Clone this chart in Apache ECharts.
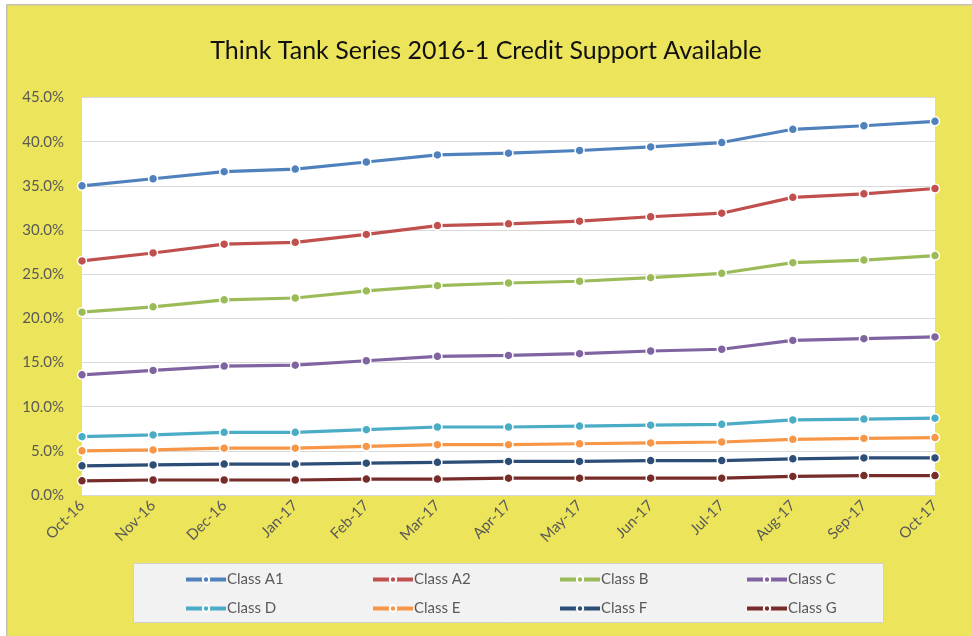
<!DOCTYPE html>
<html>
<head>
<meta charset="utf-8">
<script src="https://cdn.jsdelivr.net/npm/echarts@6/dist/echarts.min.js"></script>
<style>
html,body{margin:0;padding:0;background:#ffffff;}
#chart{width:972px;height:636px;}
</style>
</head>
<body>
<div id="chart"></div>
<script>
var categories = ['Oct-16','Nov-16','Dec-16','Jan-17','Feb-17','Mar-17','Apr-17','May-17','Jun-17','Jul-17','Aug-17','Sep-17','Oct-17'];
var yTicks = [0, 45, 5];
var classA1 = [35.0, 35.8, 36.6, 36.9, 37.7, 38.5, 38.7, 39.0, 39.4, 39.9, 41.4, 41.8, 42.3];
var classA2 = [26.5, 27.4, 28.4, 28.6, 29.5, 30.5, 30.7, 31.0, 31.5, 31.9, 33.7, 34.1, 34.7];
var classB  = [20.7, 21.3, 22.1, 22.3, 23.1, 23.7, 24.0, 24.2, 24.6, 25.1, 26.3, 26.6, 27.1];
var classC  = [13.6, 14.1, 14.6, 14.7, 15.2, 15.7, 15.8, 16.0, 16.3, 16.5, 17.5, 17.7, 17.9];
var classD  = [6.6, 6.8, 7.1, 7.1, 7.4, 7.7, 7.7, 7.8, 7.9, 8.0, 8.5, 8.6, 8.7];
var classE  = [5.0, 5.1, 5.3, 5.3, 5.5, 5.7, 5.7, 5.8, 5.9, 6.0, 6.3, 6.4, 6.5];
var classF  = [3.3, 3.4, 3.5, 3.5, 3.6, 3.7, 3.8, 3.8, 3.9, 3.9, 4.1, 4.2, 4.2];
var classG  = [1.6, 1.7, 1.7, 1.7, 1.8, 1.8, 1.9, 1.9, 1.9, 1.9, 2.1, 2.2, 2.2];
var seriesNames = ['Class A1','Class A2','Class B','Class C','Class D','Class E','Class F','Class G'];
var seriesData = [classA1, classA2, classB, classC, classD, classE, classF, classG];
var colors = ['#4F81BD','#C0504D','#9BBB59','#8064A2','#4BACC6','#F79646','#2C4D75','#772C2A'];

var FONT = 'Lato, "Open Sans", sans-serif';
var chart = echarts.init(document.getElementById('chart'), null, {renderer:'canvas'});

var legendCols = [179, 366, 553, 740];
var legendRows = [567, 596];
var legends = seriesNames.map(function(n, i){
  return {
    data: [n],
    left: legendCols[i % 4],
    top: legendRows[Math.floor(i / 4)],
    itemWidth: 40,
    itemHeight: 8,
    itemGap: 0,
    lineStyle: {width: 4},
    textStyle: {color:'#595959', fontSize:15, fontFamily:FONT, padding:[0,0,0,-4]}
  };
});

var series = seriesNames.map(function(n, i){
  return {
    name: n,
    type: 'line',
    data: seriesData[i],
    symbol: 'circle',
    symbolSize: 9,
    lineStyle: {width: 3.2, color: colors[i]},
    itemStyle: {color: colors[i], borderColor:'#ffffff', borderWidth:1.5},
    emphasis: {disabled:true},
    z: 10 - i
  };
});

chart.setOption({
  animation: false,
  backgroundColor: '#ffffff',
  color: colors,
  graphic: [
    {type:'rect', left:6, top:4, shape:{width:980, height:640}, style:{fill:'#ECE45A', stroke:'#C8BFB4', lineWidth:1.5}, z:-10},
    {type:'rect', left:133, top:563, shape:{width:750, height:59}, style:{fill:'#F2F2F2', stroke:'#D0D0D0', lineWidth:1}, z:-5}
  ],
  title: {
    text: 'Think Tank Series 2016-1 Credit Support Available',
    left: 'center',
    top: 33,
    textStyle: {color:'#111111', fontSize:25, fontWeight:'normal', fontFamily:FONT}
  },
  legend: legends,
  grid: {
    left: 82, right: 37, top: 97.5, bottom: 141,
    show: true, backgroundColor:'#ffffff', borderWidth:0
  },
  xAxis: {
    type: 'category',
    data: categories,
    boundaryGap: false,
    axisLine: {show:true, lineStyle:{color:'#D9D9D9'}},
    axisTick: {show:false},
    axisLabel: {rotate:45, color:'#595959', fontSize:15, fontFamily:FONT, margin:8, interval:0}
  },
  yAxis: {
    type: 'value',
    min: yTicks[0], max: yTicks[1], interval: yTicks[2],
    axisLine: {show:false},
    axisTick: {show:false},
    splitLine: {lineStyle:{color:'#D9D9D9', width:1}},
    axisLabel: {
      color:'#595959', fontSize:15, fontFamily:FONT, margin:18,
      formatter: function(v){ return v.toFixed(1) + '%'; }
    }
  },
  series: series
});
</script>
</body>
</html>
